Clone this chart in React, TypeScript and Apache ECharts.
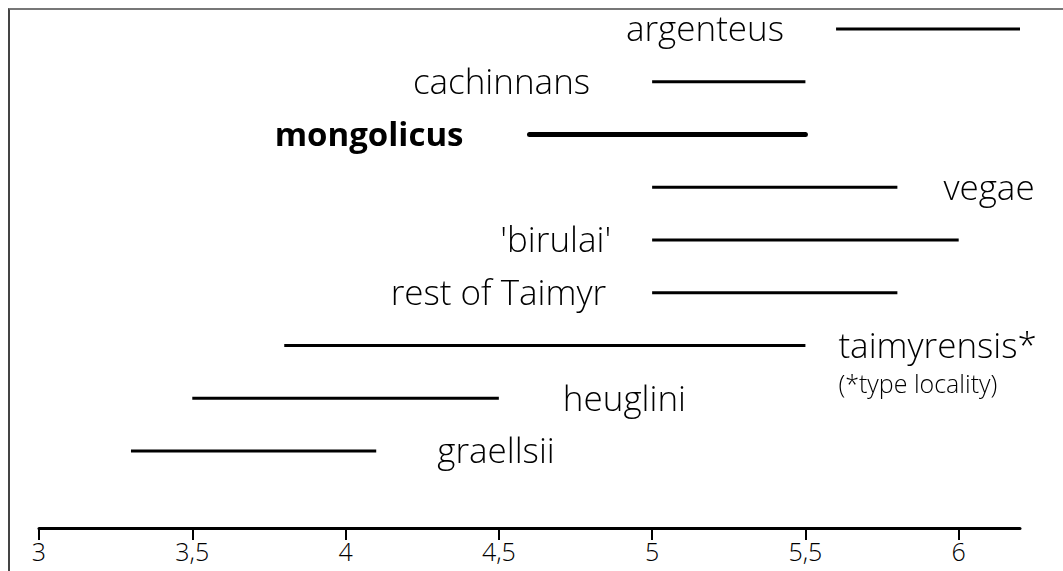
import React, { useEffect, useRef } from "react";
import * as echarts from "echarts";

// Data
const names = [
  "graellsii",
  "heuglini",
  "taimyrensis*",
  "rest of Taimyr",
  "'birulai'",
  "vegae",
  "mongolicus",
  "cachinnans",
  "argenteus",
];
const rangeStart = [3.3, 3.5, 3.8, 5.0, 5.0, 5.0, 4.6, 5.0, 5.6];
const rangeEnd = [4.1, 4.5, 5.5, 5.8, 6.0, 5.8, 5.5, 5.5, 6.2];
const tickValues = [3, 3.5, 4, 4.5, 5, 5.5, 6];
const footnote = "(*type locality)";

// Label layout (style, not data)
const labelSide = ["right", "right", "right", "left", "left", "right", "left", "left", "left"];
const labelGap = [61, 64, 33, 46, 41, 46, 66, 62, 52];
const emphasised = [false, false, false, false, false, false, true, false, false];

const FONT = "'Open Sans', 'Noto Sans', sans-serif";

export default function App() {
  const ref = useRef<HTMLDivElement>(null);

  useEffect(() => {
    if (!ref.current) return;
    const chart = echarts.init(ref.current, undefined, { renderer: "svg" });
    const data = names.map((n, i) => [rangeStart[i], rangeEnd[i], i]);

    chart.setOption({
      animation: false,
      backgroundColor: "transparent",
      grid: { left: 39, right: 43, top: 10, bottom: 43, containLabel: false },
      xAxis: {
        type: "value",
        position: "bottom",
        min: 3,
        max: 6.2,
        interval: 0.5,
        axisLine: { show: true, onZero: false, lineStyle: { color: "#000", width: 3 } },
        axisTick: {
          show: true,
          length: 12,
          lineStyle: { color: "#000", width: 2 },
          customValues: tickValues,
        },
        axisLabel: {
          color: "#000",
          fontSize: 25,
          fontWeight: 300,
          fontFamily: FONT,
          margin: 10,
          customValues: tickValues,
          formatter: (v: number) => String(v).replace(".", ","),
        },
        splitLine: { show: false },
      },
      yAxis: {
        type: "value",
        min: -1.46,
        max: 8.36,
        show: false,
        splitLine: { show: false },
      },
      series: [
        {
          type: "custom",
          clip: false,
          data,
          renderItem: (params: any, api: any) => {
            const i = params.dataIndex;
            const s = api.coord([api.value(0), api.value(2)]);
            const e = api.coord([api.value(1), api.value(2)]);
            const bold = emphasised[i];
            const right = labelSide[i] === "right";
            const children: any[] = [
              {
                type: "line",
                shape: { x1: s[0], y1: s[1], x2: e[0], y2: e[1] },
                style: {
                  stroke: "#000",
                  lineWidth: bold ? 5 : 3,
                  lineCap: bold ? "round" : "butt",
                },
              },
              {
                type: "text",
                style: {
                  text: names[i],
                  x: right ? e[0] + labelGap[i] : s[0] - labelGap[i],
                  y: s[1] - 1,
                  align: right ? "left" : "right",
                  verticalAlign: "middle",
                  fontSize: bold ? 33 : 35,
                  fontWeight: bold ? "bold" : 300,
                  fontFamily: FONT,
                  fill: "#000",
                },
              },
            ];
            if (names[i] === "taimyrensis*") {
              children.push({
                type: "text",
                style: {
                  text: footnote,
                  x: e[0] + labelGap[i],
                  y: s[1] + 38,
                  align: "left",
                  verticalAlign: "middle",
                  fontSize: 25,
                  fontWeight: 300,
                  fontFamily: FONT,
                  fill: "#000",
                },
              });
            }
            return { type: "group", children };
          },
        },
      ],
    });

    return () => chart.dispose();
  }, []);

  return (
    <>
      <div
        style={{
          position: "fixed",
          left: 8,
          top: 8,
          width: 1055,
          height: 563,
          borderTop: "2px solid #777",
          borderLeft: "2px solid #444",
          background: "#fff",
        }}
      />
      <div
        ref={ref}
        style={{ position: "fixed", left: 0, top: 0, width: 1063, height: 571 }}
      />
    </>
  );
}
